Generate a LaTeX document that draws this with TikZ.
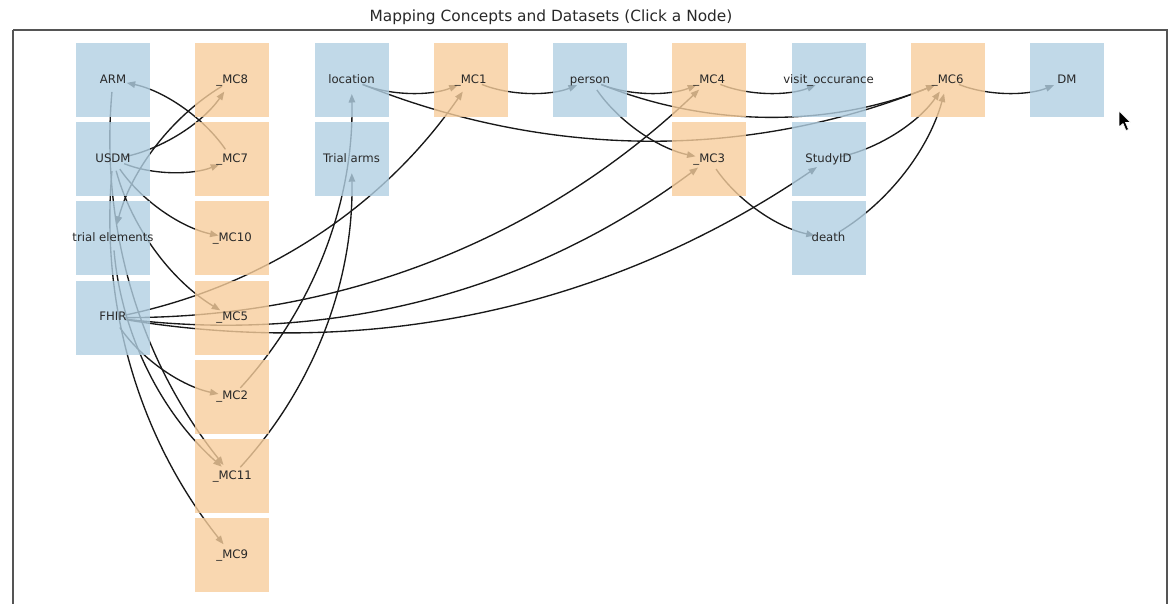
\documentclass[tikz,border=0pt]{standalone}
\usepackage{fontspec}
\setmainfont{DejaVu Sans}
\usetikzlibrary{calc,arrows.meta}
\pgfdeclarelayer{edges}
\pgfsetlayers{edges,main}
\definecolor{dsblue}{RGB}{177,207,226}
\definecolor{mcorange}{RGB}{247,205,156}
\definecolor{framegray}{RGB}{85,85,85}
\definecolor{labelgray}{RGB}{40,40,40}
% curved connector (quadratic arc, bending to the right of travel)
\newcommand\mapedge[2]{%
  \coordinate (qm) at ($(#1.center)!.5!(#2.center)$);
  \coordinate (qc) at ($(qm)!.4!-90:(#2.center)$);
  \draw[edge] (#1.center) .. controls ($(#1.center)!2/3!(qc)$) and ($(#2.center)!2/3!(qc)$) .. (#2.center);
}
% label that may run past the box edges without widening the box
\newcommand\widelabel[1]{\makebox[0pt]{#1}}
\tikzset{
  box/.style={rectangle, minimum width=74pt, minimum height=74pt, inner sep=0pt,
    fill opacity=0.8, text opacity=1, text=labelgray,
    font=\fontsize{11.7}{14}\selectfont, text height=8.6pt, text depth=2.4pt},
  ds/.style={box, fill=dsblue},
  mc/.style={box, fill=mcorange},
  edge/.style={draw=black!90, line width=1.35pt, -{Triangle[length=8.5pt,width=6.5pt]},
    shorten <=12pt, shorten >=14pt},
}
\begin{document}
\begin{tikzpicture}[x=1pt,y=-1pt]
\useasboundingbox (0,0) rectangle (1172,603);

% title and axes frame
\node[font=\fontsize{15.4}{18}\selectfont, anchor=base, text=labelgray] (title) at (551,21.5)
  {Mapping Concepts and Datasets (Click a Node)};
\draw[framegray, line width=1.2pt] (13,30) -- (13,603.6) (1167,603.6) -- (1167,30) -- (13,30);

% column 1: datasets
\node[ds] (arm)     at (113,80)    {ARM};
\node[ds] (usdm)    at (113,159.2) {USDM};
\node[ds] (trialel) at (113,238.4) {\widelabel{trial elements}};
\node[ds] (fhir)    at (113,317.6) {FHIR};
% column 2: mapping concepts
\node[mc] (mc8)  at (232.25,80)    {\_MC8};
\node[mc] (mc7)  at (232.25,159.2) {\_MC7};
\node[mc] (mc10) at (232.25,238.4) {\_MC10};
\node[mc] (mc5)  at (232.25,317.6) {\_MC5};
\node[mc] (mc2)  at (232.25,396.8) {\_MC2};
\node[mc] (mc11) at (232.25,476)   {\_MC11};
\node[mc] (mc9)  at (232.25,555.2) {\_MC9};
% remaining columns
\node[ds] (loc)     at (351.5,80)    {location};
\node[ds] (tarms)   at (351.5,159.2) {Trial arms};
\node[mc] (mc1)     at (470.75,80)   {\_MC1};
\node[ds] (person)  at (590,80)      {person};
\node[mc] (mc4)     at (709.25,80)   {\_MC4};
\node[mc] (mc3)     at (709.25,159.2){\_MC3};
\node[ds] (visit)   at (828.5,80)    {\widelabel{visit\_occurance}};
\node[ds] (studyid) at (828.5,159.2) {StudyID};
\node[ds] (death)   at (828.5,238.4) {death};
\node[mc] (mc6)     at (947.75,80)   {\_MC6};
\node[ds] (dm)      at (1067,80)     {DM};

\begin{pgfonlayer}{edges}
\mapedge{mc7}{arm}
\mapedge{usdm}{mc8}
\mapedge{usdm}{mc7}
\mapedge{usdm}{mc10}
\mapedge{usdm}{mc5}
\mapedge{usdm}{mc9}
\mapedge{mc8}{trialel}
\mapedge{arm}{mc11}
\mapedge{trialel}{mc11}
\mapedge{fhir}{mc2}
\mapedge{fhir}{mc1}
\mapedge{fhir}{mc4}
\mapedge{fhir}{mc3}
\mapedge{fhir}{studyid}
\mapedge{mc2}{loc}
\mapedge{mc11}{tarms}
\mapedge{loc}{mc1}
\mapedge{loc}{mc6}
\mapedge{mc1}{person}
\mapedge{person}{mc4}
\mapedge{person}{mc3}
\mapedge{person}{mc6}
\mapedge{mc4}{visit}
\mapedge{mc3}{death}
\mapedge{death}{mc6}
\mapedge{studyid}{mc6}
\mapedge{mc6}{dm}
\end{pgfonlayer}

% mouse pointer
\fill[black, draw=white, line width=0.6pt] (1119,111) -- (1119,127) -- (1123,123.5) -- (1126,130.5)
  -- (1128.5,129.5) -- (1125.5,122.5) -- (1130.5,122.5) -- cycle;
\end{tikzpicture}
\end{document}
